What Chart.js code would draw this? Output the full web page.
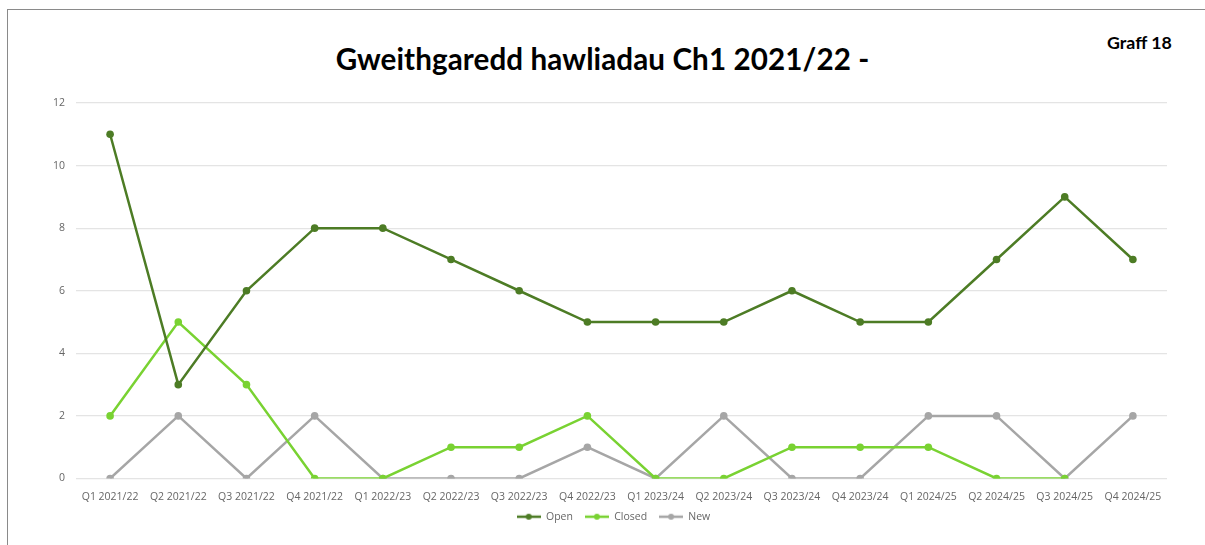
<!DOCTYPE html>
<html><head><meta charset="utf-8">
<script src="https://cdn.jsdelivr.net/npm/chart.js@4/dist/chart.umd.min.js"></script>
<style>
html,body{margin:0;padding:0;background:#fff;}
#wrap{position:relative;width:1205px;height:545px;overflow:hidden;}
#frame{position:absolute;left:7px;top:9px;width:1300px;height:600px;border-left:1.5px solid #8a8a8a;border-top:1.5px solid #8a8a8a;}
#title{position:absolute;left:0;width:1205px;top:41px;text-align:center;font:bold 29.6px Lato,"DejaVu Sans",sans-serif;color:#000;letter-spacing:0.1px;}
#graff{position:absolute;left:1107px;top:31px;font:bold 17.8px Lato,"DejaVu Sans",sans-serif;color:#000;}
canvas{position:absolute;left:0;top:0;}
</style></head>
<body><div id="wrap">
<div id="frame"></div>
<div id="title">Gweithgaredd hawliadau Ch1 2021/22 -</div>
<div id="graff">Graff 18</div>
<canvas id="c" width="1205" height="545"></canvas>
</div>
<script>
const categories = ["Q1 2021/22","Q2 2021/22","Q3 2021/22","Q4 2021/22","Q1 2022/23","Q2 2022/23","Q3 2022/23","Q4 2022/23","Q1 2023/24","Q2 2023/24","Q3 2023/24","Q4 2023/24","Q1 2024/25","Q2 2024/25","Q3 2024/25","Q4 2024/25"];
const openValues = [11,3,6,8,8,7,6,5,5,5,6,5,5,7,9,7];
const closedValues = [2,5,3,0,0,1,1,2,0,0,1,1,1,0,0,null];
const newValues = [0,2,0,2,0,0,0,1,0,2,0,0,2,2,0,2];
const seriesNames = ["Open","Closed","New"];
const colors = ["#4d7c25","#79d232","#a6a6a6"];

function legendIcon(color){
  const cv=document.createElement('canvas');cv.width=24;cv.height=8;
  const g=cv.getContext('2d');
  g.strokeStyle=color;g.lineWidth=2.5;g.beginPath();g.moveTo(0,4);g.lineTo(24,4);g.stroke();
  g.fillStyle=color;g.beginPath();g.arc(12,4,3,0,Math.PI*2);g.fill();
  return cv;
}
const icons = colors.map(legendIcon);
const tickFont={family:"'Open Sans','Noto Sans',sans-serif",size:10.5};
const legendShift={id:'legendShift',afterLayout(chart){const l=chart.legend;if(l){l.top-=5;l.bottom-=5;l.left+=30;l.right+=30;}}};
new Chart(document.getElementById('c'),{
  type:'line',
  data:{labels:categories,datasets:[openValues,closedValues,newValues].map((d,i)=>({
    label:seriesNames[i],data:d,borderColor:colors[i],backgroundColor:colors[i],
    borderWidth:2.5,pointRadius:3.8,pointHoverRadius:3.8,pointBackgroundColor:colors[i],pointBorderWidth:0,tension:0,spanGaps:false
  }))},
  plugins:[legendShift],
  options:{
    responsive:false,animation:false,
    layout:{padding:{top:103,right:38,left:0,bottom:8}},
    plugins:{
      title:{display:false},tooltip:{enabled:false},
      legend:{position:'bottom',labels:{
        usePointStyle:true,pointStyleWidth:24,font:tickFont,color:'#666',boxHeight:8,padding:12,
        generateLabels:(chart)=>chart.data.datasets.map((ds,i)=>({text:ds.label,pointStyle:icons[i],fillStyle:colors[i],strokeStyle:colors[i],lineWidth:0,fontColor:'#666',datasetIndex:i,hidden:false}))
      }}
    },
    scales:{
      x:{offset:true,grid:{display:false},border:{display:false},
         ticks:{font:tickFont,color:'#666',maxRotation:0,autoSkip:false,padding:4},
         afterFit:(s)=>{s.height=26;}},
      y:{min:0,max:12,grid:{color:'#e4e4e4',lineWidth:1.2,drawTicks:false},border:{display:false},
         ticks:{stepSize:2,font:tickFont,color:'#666',padding:11},
         afterFit:(s)=>{s.width=76;}}
    }
  }
});
</script>
</body></html>
